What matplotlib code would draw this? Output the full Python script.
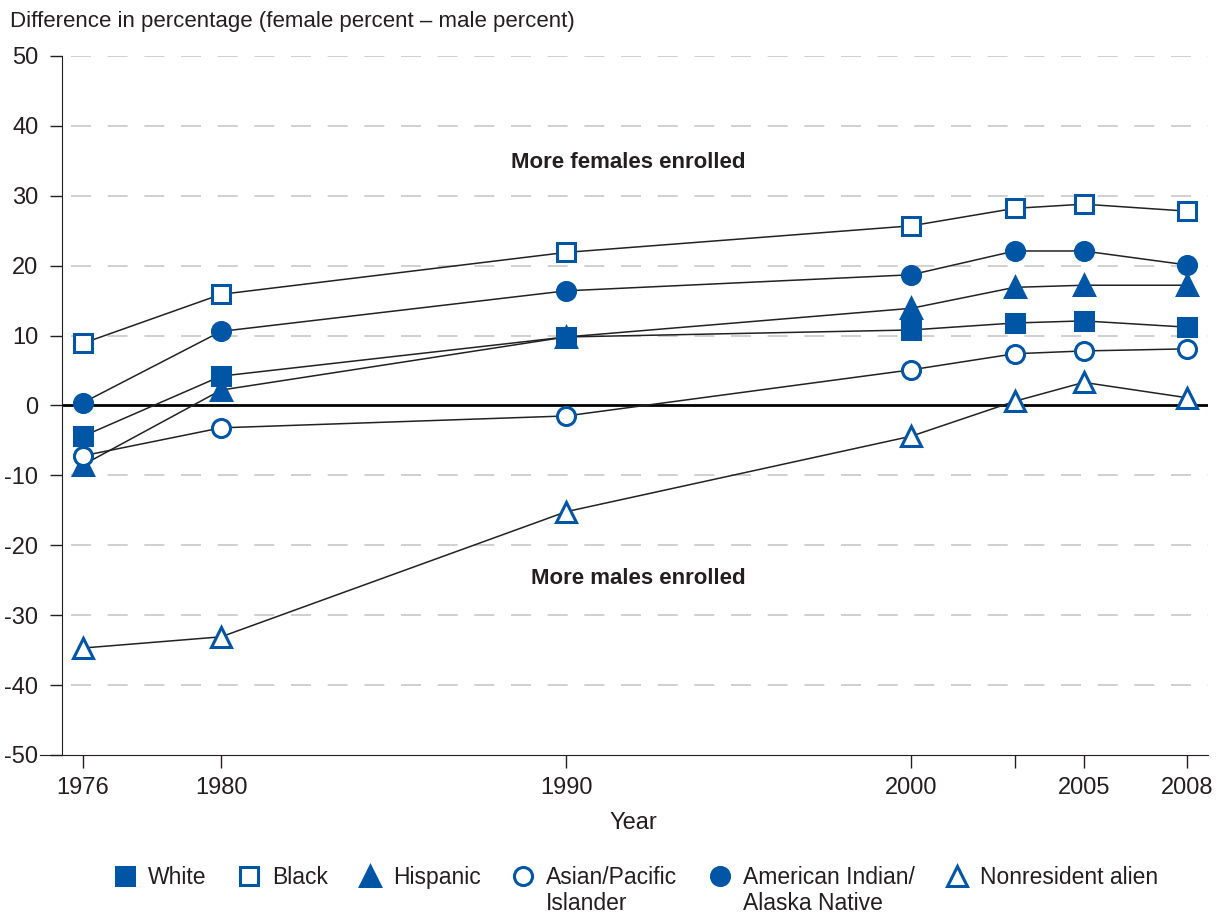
import matplotlib
matplotlib.use("Agg")
import matplotlib.pyplot as plt
from matplotlib.lines import Line2D

plt.rcParams['font.family'] = ['Liberation Sans', 'DejaVu Sans']
plt.rcParams['axes.unicode_minus'] = False

# data
years = [1976, 1980, 1990, 2000, 2003, 2005, 2008]
tick_years = [1976, 1980, 1990, 2000, 2003, 2005, 2008]
tick_labels = ['1976', '1980', '1990', '2000', '', '2005', '2008']

white = [-4.4, 4.2, 9.8, 10.8, 11.8, 12.1, 11.2]
black = [8.9, 15.9, 21.9, 25.7, 28.2, 28.8, 27.8]
hispanic = [-8.5, 2.2, 9.8, 13.9, 16.9, 17.2, 17.2]
asian = [-7.2, -3.2, -1.5, 5.1, 7.4, 7.8, 8.1]
amer_indian = [0.4, 10.6, 16.4, 18.7, 22.1, 22.1, 20.1]
nonresident = [-34.7, -33.1, -15.2, -4.4, 0.6, 3.3, 1.1]

blue = '#0055a5'
txt = '#231f20'

series = [
    ('White', white, 's', True),
    ('Black', black, 's', False),
    ('Hispanic', hispanic, '^', True),
    ('Asian/Pacific', asian, 'o', False),
    ('American Indian/', amer_indian, 'o', True),
    ('Nonresident alien', nonresident, '^', False),
]
second_lines = {'Asian/Pacific': 'Islander', 'American Indian/': 'Alaska Native'}

fig = plt.figure(figsize=(12.23, 9.16), dpi=100)
ax = fig.add_axes([0.0507, 0.1758, 0.937, 0.7631])

# grid + zero line
for v in range(-40, 51, 10):
    if v == 0:
        continue
    ax.axhline(v, color='#c8c8c8', lw=1.2, dashes=(12, 10), xmin=0.008, zorder=0)
ax.axhline(0, color='black', lw=2, zorder=1)

handles = []
for name, vals, mk, filled in series:
    ax.plot(years, vals, color='#222222', lw=1.1, zorder=2)
    ms = 13 if mk != '^' else 15
    if mk == 's':
        ms = 12.5
    ax.plot(years, vals, ls='none', marker=mk, ms=ms, mec=blue, mew=2.2,
            mfc=blue if filled else 'white', zorder=3)
    handles.append(Line2D([], [], ls='none', marker=mk, ms=ms, mec=blue, mew=2.2,
                          mfc=blue if filled else 'white', label=name))

ax.set_xlim(1975.39, 2008.6)
ax.set_ylim(-50, 50)
ax.set_yticks(range(-50, 51, 10))
ax.set_xticks(tick_years)
ax.set_xticklabels(tick_labels)
ax.tick_params(axis='both', labelsize=17, colors=txt, length=9, width=1)
ax.tick_params(axis='x', pad=7)
ax.tick_params(axis='y', pad=8)
for s in ['top', 'right']:
    ax.spines[s].set_visible(False)
ax.spines['left'].set_color(txt)
ax.spines['bottom'].set_color(txt)
ax.spines['bottom'].set_bounds(1974.75, 2008.6)

ax.text(1991.8, 34.8, 'More females enrolled', fontsize=16, fontweight='bold',
        color=txt, ha='center', va='center')
ax.text(1992.1, -24.7, 'More males enrolled', fontsize=16, fontweight='bold',
        color=txt, ha='center', va='center')

fig.text(0.008, 0.976, 'Difference in percentage (female percent \u2013 male percent)',
         fontsize=16, color=txt, ha='left', va='center')
fig.text(0.518, 0.101, 'Year', fontsize=17, color=txt, ha='center', va='center')

leg = fig.legend(handles=handles, loc='center', bbox_to_anchor=(0.52, 0.042),
                 ncol=6, frameon=False, fontsize=16.5, handlelength=1.0,
                 handletextpad=0.5, columnspacing=1.35, borderaxespad=0)
for t in leg.get_texts():
    t.set_color(txt)

fig.canvas.draw()
inv = fig.transFigure.inverted()
for t in leg.get_texts():
    label = t.get_text()
    if label in second_lines:
        bb = t.get_window_extent()
        x0, y0 = inv.transform((bb.x0, bb.y0))
        fig.text(x0, y0 - 0.003, second_lines[label], fontsize=16.5, color=txt,
                 ha='left', va='top')

fig.savefig('out.png', dpi=100)
